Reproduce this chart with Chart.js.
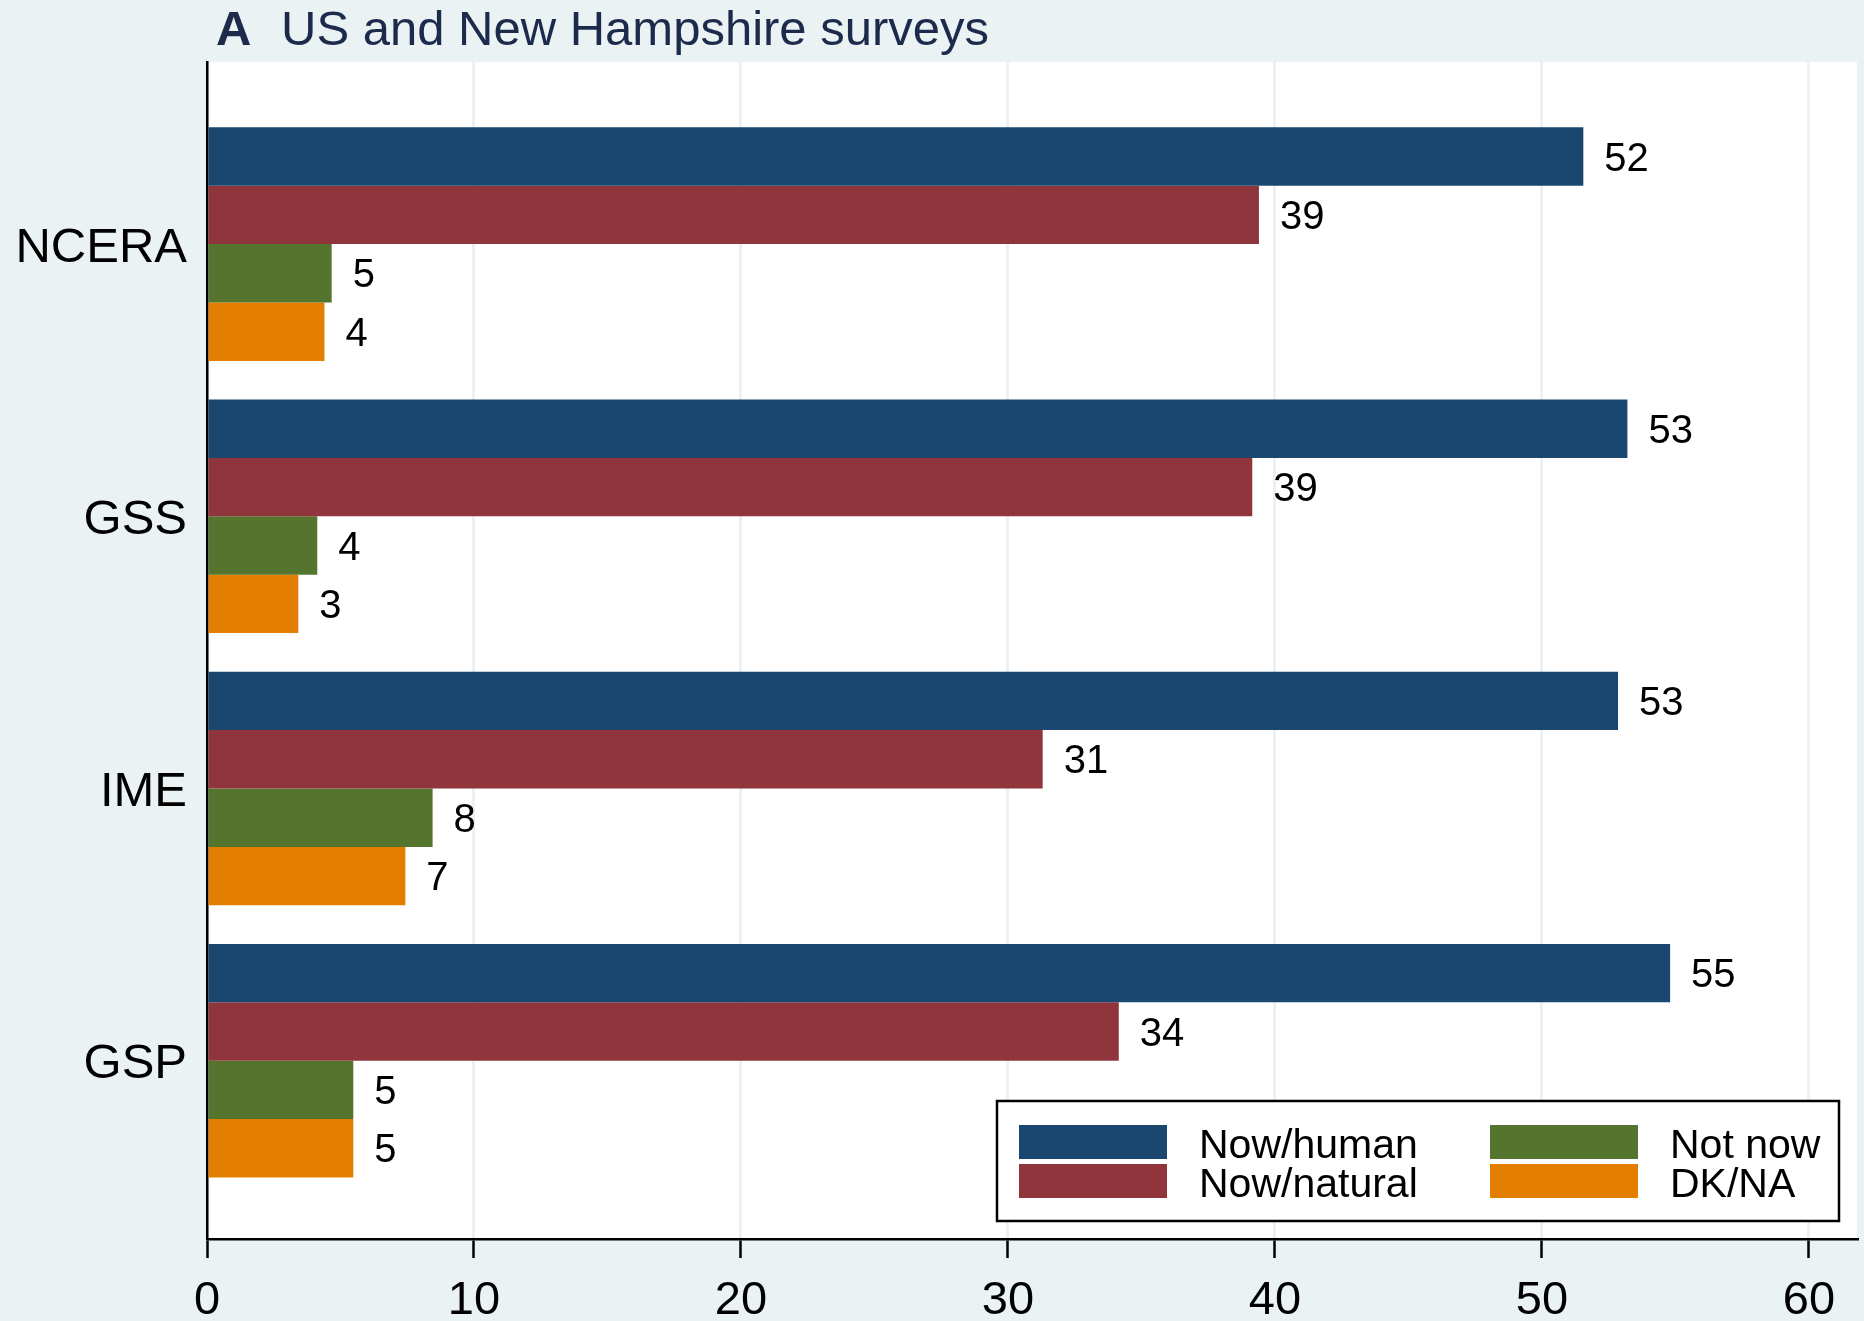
<!DOCTYPE html>
<html>
<head>
<meta charset="utf-8">
<script src="https://cdn.jsdelivr.net/npm/chart.js@4.4.1/dist/chart.umd.min.js"></script>
<style>
  html, body { margin: 0; padding: 0; background: #eaf2f3; }
  #wrap { width: 1864px; height: 1321px; }
</style>
</head>
<body>
<div id="wrap"><canvas id="c" width="1864" height="1321"></canvas></div>
<script>
const categories = ['NCERA', 'GSS', 'IME', 'GSP'];
const seriesNames = ['Now/human', 'Now/natural', 'Not now', 'DK/NA'];
const nowHuman   = [51.55, 53.2, 52.85, 54.8];
const nowNatural = [39.4, 39.15, 31.3, 34.15];
const notNow     = [4.67, 4.13, 8.45, 5.48];
const dkNa       = [4.4, 3.42, 7.43, 5.48];
const xTicks = [0, 10, 20, 30, 40, 50, 60];
const titleLetter = 'A';
const titleText = 'US and New Hampshire surveys';

const colors = ['#1a476f', '#90353b', '#55752f', '#e37e00'];
const FONT = '"Liberation Sans", Arial, sans-serif';
const seriesValues = [nowHuman, nowNatural, notNow, dkNa];

const datasets = seriesValues.map((vals, k) => ({
  label: seriesNames[k],
  data: vals.map((v, i) => ({ x: v, y: i })),
  backgroundColor: colors[k],
  borderWidth: 0,
  categoryPercentage: 0.858,
  barPercentage: 1.0
}));

const bgPlugin = {
  id: 'bg',
  beforeDraw(chart) {
    const { ctx, chartArea: a } = chart;
    ctx.save();
    ctx.fillStyle = '#eaf2f3';
    ctx.fillRect(0, 0, chart.width, chart.height);
    ctx.fillStyle = '#ffffff';
    ctx.fillRect(a.left, a.top, a.right - a.left, a.bottom - a.top);
    ctx.restore();
  }
};

const titlePlugin = {
  id: 'titleA',
  afterDraw(chart) {
    const ctx = chart.ctx;
    ctx.save();
    ctx.fillStyle = '#1c2a4c';
    ctx.textBaseline = 'middle';
    ctx.textAlign = 'left';
    ctx.font = 'bold 49px ' + FONT;
    ctx.fillText(titleLetter, 216, 31);
    ctx.font = '49px ' + FONT;
    ctx.fillText(titleText, 281, 31);
    ctx.restore();
  }
};

const valueLabels = {
  id: 'valueLabels',
  afterDatasetsDraw(chart) {
    const ctx = chart.ctx;
    ctx.save();
    ctx.fillStyle = '#000';
    ctx.font = '40px ' + FONT;
    ctx.textBaseline = 'middle';
    ctx.textAlign = 'left';
    chart.data.datasets.forEach((ds, k) => {
      const meta = chart.getDatasetMeta(k);
      meta.data.forEach((el, i) => {
        const v = seriesValues[k][i];
        ctx.fillText(String(Math.round(v)), el.x + 21, el.y + 3);
      });
    });
    ctx.restore();
  }
};

const legendBox = {
  id: 'legendBox',
  afterDraw(chart) {
    const ctx = chart.ctx;
    const bx = 997, by = 1101, bw = 842, bh = 120;
    ctx.save();
    ctx.fillStyle = '#fff';
    ctx.fillRect(bx, by, bw, bh);
    ctx.strokeStyle = '#000';
    ctx.lineWidth = 2.5;
    ctx.strokeRect(bx, by, bw, bh);
    ctx.font = '41px ' + FONT;
    ctx.textBaseline = 'middle';
    ctx.textAlign = 'left';
    const cols = [1019, 1490];
    const rows = [1125, 1164];
    chart.data.datasets.forEach((ds, k) => {
      const col = Math.floor(k / 2), row = k % 2;
      const x = cols[col], y = rows[row];
      ctx.fillStyle = ds.backgroundColor;
      ctx.fillRect(x, y, 148, 34);
      ctx.fillStyle = '#000';
      ctx.fillText(ds.label, x + 180, y + 22);
    });
    ctx.restore();
  }
};

new Chart(document.getElementById('c'), {
  type: 'bar',
  data: { datasets },
  options: {
    indexAxis: 'y',
    responsive: false,
    animation: false,
    devicePixelRatio: 1,
    layout: { padding: { left: 0, right: 7, top: 62, bottom: 0 } },
    plugins: {
      legend: { display: false },
      title: { display: false },
      tooltip: { enabled: false }
    },
    scales: {
      x: {
        type: 'linear',
        min: 0,
        max: 61.8,
        offset: false,
        afterBuildTicks: s => { s.ticks = xTicks.map(v => ({ value: v })); },
        afterFit: s => { s.height = 82; },
        grid: {
          color: '#eaf2f3',
          lineWidth: 3,
          offset: false,
          drawTicks: true,
          tickLength: 19,
          tickColor: '#000',
          tickWidth: 2.5
        },
        border: { display: true, color: '#000', width: 2.5 },
        ticks: {
          color: '#000',
          font: { family: FONT, size: 47 },
          padding: 15,
          maxRotation: 0,
          autoSkip: false
        }
      },
      y: {
        type: 'linear',
        reverse: true,
        offset: false,
        min: -0.669,
        max: 3.655,
        afterBuildTicks: s => { s.ticks = categories.map((c, i) => ({ value: i })); },
        afterFit: s => { s.width = 207; },
        grid: { display: false, drawTicks: false, offset: false },
        border: { display: true, color: '#000', width: 2.5 },
        ticks: {
          color: '#000',
          font: { family: FONT, size: 49 },
          padding: 20,
          labelOffset: 4,
          autoSkip: false,
          callback: v => categories[v]
        }
      }
    }
  },
  plugins: [bgPlugin, valueLabels, legendBox, titlePlugin]
});
</script>
</body>
</html>
